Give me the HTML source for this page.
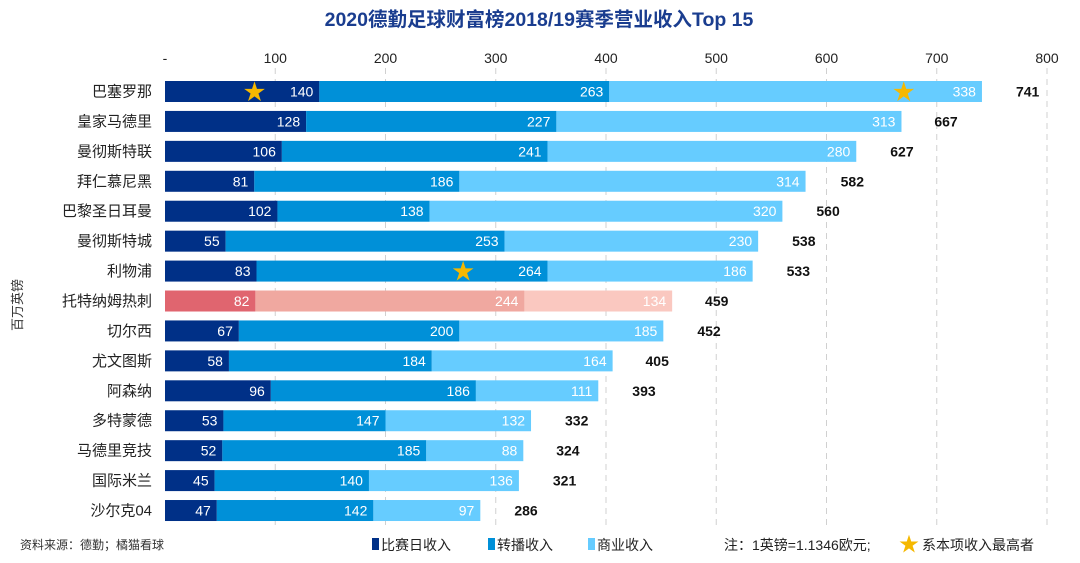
<!DOCTYPE html>
<html><head><meta charset="utf-8"><style>
body{margin:0;background:#fff;}
svg text{font-family:"Liberation Sans","Noto Sans CJK SC",sans-serif;}
</style></head><body>
<svg id="c" width="1080" height="558">
<text x="539" y="26" text-anchor="middle" font-size="19.5" font-weight="bold" fill="#1a3d8f">2020德勤足球财富榜2018/19赛季营业收入Top 15</text>
<text transform="translate(22,305) rotate(-90)" text-anchor="middle" font-size="13" fill="#333">百万英镑</text>
<g id="grid"></g><g id="bars"></g>
<text x="20" y="549" font-size="12" fill="#333">资料来源：德勤；橘猫看球</text>
<g>
<rect x="372" y="538" width="7" height="12" fill="#003087"/>
<text x="381" y="550" font-size="14" fill="#222">比赛日收入</text>
<rect x="488" y="538" width="7" height="12" fill="#0090d8"/>
<text x="497" y="550" font-size="14" fill="#222">转播收入</text>
<rect x="588" y="538" width="7" height="12" fill="#66ccff"/>
<text x="597" y="550" font-size="14" fill="#222">商业收入</text>
<text x="724" y="550" font-size="14" fill="#222">注：1英镑=1.1346欧元;</text>
<text x="899" y="551" font-size="20" fill="#f5b800">★</text>
<text x="922" y="550" font-size="14" fill="#222">系本项收入最高者</text>
</g>
</svg>
<script>
const clubs=["巴塞罗那","皇家马德里","曼彻斯特联","拜仁慕尼黑","巴黎圣日耳曼","曼彻斯特城","利物浦","托特纳姆热刺","切尔西","尤文图斯","阿森纳","多特蒙德","马德里竞技","国际米兰","沙尔克04"];
const matchday=[140,128,106,81,102,55,83,82,67,58,96,53,52,45,47];
const broadcast=[263,227,241,186,138,253,264,244,200,184,186,147,185,140,142];
const commercial=[338,313,280,314,320,230,186,134,185,164,111,132,88,136,97];
const totals=[741,667,627,582,560,538,533,459,452,405,393,332,324,321,286];
const ticks=[0,100,200,300,400,500,600,700,800];
const tickLabels=["-","100","200","300","400","500","600","700","800"];
const stars=[[0,0,0.58],[6,1,0.71],[0,2,0.79]];
const NS="http://www.w3.org/2000/svg";
const x=v=>165+v*1.1025;
const y=i=>91.5+i*29.93;
function mk(t,a,p){const e=document.createElementNS(NS,t);for(const k in a)e.setAttribute(k,a[k]);p.appendChild(e);return e;}
const grid=document.getElementById('grid'),bars=document.getElementById('bars');
ticks.forEach((t,i)=>{
  if(i>0){const l=mk('line',{x1:x(t),x2:x(t),y1:68,y2:527,stroke:'#d0d0d0','stroke-dasharray':'6,5'},grid);
  
  }
  const tx=mk('text',{x:x(t),y:63,'text-anchor':'middle','font-size':14,fill:'#222'},grid);
  tx.textContent=tickLabels[i];
  
  
});
const base=[["#003087","#0090d8","#66ccff"],["#e0656f","#f0a8a0","#fac8c0"]];
clubs.forEach((c,i)=>{
  const cy=y(i),col=base[i==7?1:0];
  const lab=mk('text',{x:152,y:cy+5,'text-anchor':'end','font-size':15,fill:'#222'},bars);
  lab.textContent=c;
  
  
  const vals=[matchday[i],broadcast[i],commercial[i]];let acc=0;
  vals.forEach((v,j)=>{
    const r=mk('rect',{x:x(acc),y:cy-10.5,width:x(acc+v)-x(acc),height:21,fill:col[j]},bars);
    
    
    acc+=v;
    const t=mk('text',{x:x(acc)-6,y:cy+5,'text-anchor':'end','font-size':14,fill:'#fff'},bars);
    t.textContent=v;
    
    
  });
  const tt=mk('text',{x:x(totals[i])+34,y:cy+5,'font-size':14,'font-weight':'bold',fill:'#111'},bars);
  tt.textContent=totals[i];
  
  
});
stars.forEach(([r,s,f])=>{
  let st=0;for(let k=0;k<s;k++)st+=[matchday,broadcast,commercial][k][r];
  const v=[matchday,broadcast,commercial][s][r];
  const sx=x(st)+(x(st+v)-x(st))*f;
  const t=mk('text',{x:sx,y:y(r)+8,'text-anchor':'middle','font-size':22,fill:'#f5b800'},bars);
  t.textContent='★';
  
  
});
</script>
</body></html>
